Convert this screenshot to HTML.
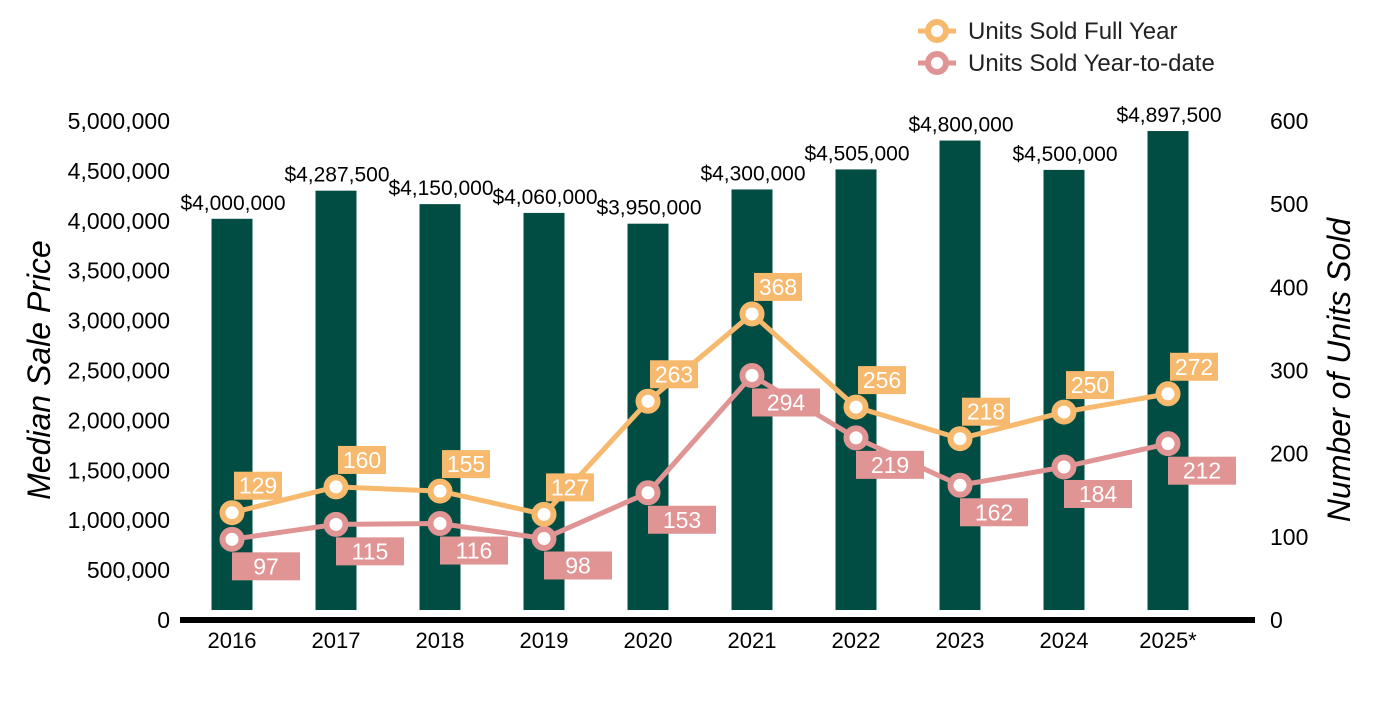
<!DOCTYPE html>
<html><head><meta charset="utf-8"><style>
body{margin:0;background:#fff}
svg text{font-family:"Liberation Sans",Arial,sans-serif}
</style></head><body>
<svg id="c" width="1400" height="700"></svg>
<script>
const categories=["2016","2017","2018","2019","2020","2021","2022","2023","2024","2025*"];
const prices=[4000000,4287500,4150000,4060000,3950000,4300000,4505000,4800000,4500000,4897500];
const fullYear=[129,160,155,127,263,368,256,218,250,272];
const ytd=[97,115,116,98,153,294,219,162,184,212];
const leftTicks=[0,500000,1000000,1500000,2000000,2500000,3000000,3500000,4000000,4500000,5000000];
const rightTicks=[0,100,200,300,400,500,600];
const NS="http://www.w3.org/2000/svg";
const svg=document.getElementById('c');
function el(t,a,p){const e=document.createElementNS(NS,t);for(const k in a)e.setAttribute(k,a[k]);(p||svg).appendChild(e);return e;}
const xc=i=>232+i*104;
const yBar=v=>610-v/5000000*489;
const yLeftTick=v=>620-v/5000000*499;
const yR=v=>620-v/600*499;
const fmt=v=>v.toLocaleString('en-US');
leftTicks.forEach(v=>{const t=el('text',{x:170,y:yLeftTick(v)+8,'text-anchor':'end','font-size':23,fill:'#000'});t.textContent=fmt(v);

});
rightTicks.forEach(v=>{const t=el('text',{x:1270,y:yR(v)+8,'font-size':23,fill:'#000'});t.textContent=v;

});
let t=el('text',{transform:'translate(50,370) rotate(-90)','text-anchor':'middle','font-size':32,'font-style':'italic',fill:'#000'});t.textContent='Median Sale Price';

t=el('text',{transform:'translate(1350,370) rotate(-90)','text-anchor':'middle','font-size':32,'font-style':'italic',fill:'#000'});t.textContent='Number of Units Sold';

prices.forEach((v,i)=>{const r=el('rect',{x:xc(i)-20.5,y:yBar(v),width:41,height:610-yBar(v),fill:'#024d43'});


const l=el('text',{x:xc(i)+1,y:yBar(v)-9,'text-anchor':'middle','font-size':21,fill:'#000'});l.textContent='$'+fmt(v);

});
const ax=el('rect',{x:180,y:617,width:1075,height:6,fill:'#000'});

categories.forEach((c,i)=>{const l=el('text',{x:xc(i),y:648,'text-anchor':'middle','font-size':22,fill:'#000'});l.textContent=c;

});
function series(vals,color,name,labelAbove,bw){
 const p=el('polyline',{points:vals.map((v,i)=>xc(i)+','+yR(v)).join(' '),fill:'none',stroke:color,'stroke-width':5});
 
 
 vals.forEach((v,i)=>{const c=el('circle',{cx:xc(i),cy:yR(v),r:9.5,fill:'#fff',stroke:color,'stroke-width':6});
 
 
 const top=labelAbove?yR(v)-41:yR(v)+13;const x0=labelAbove?xc(i)+2:xc(i);
 const r=el('rect',{x:x0,y:top,width:bw,height:28,fill:color});
 
 
 const l=el('text',{x:x0+bw/2,y:top+22,'text-anchor':'middle','font-size':23,fill:'#fff'});l.textContent=v;
 
 });
}
series(ytd,'#e09494','ytd',false,68);
series(fullYear,'#f6b96d','full-year',true,48);
[['#f6b96d','Units Sold Full Year',31],['#e09494','Units Sold Year-to-date',63]].forEach(([c,n,y])=>{
 const g=el('g',{});
 el('line',{x1:918,x2:956,y1:y,y2:y,stroke:c,'stroke-width':5},g);
 el('circle',{cx:937,cy:y,r:9,fill:'#fff',stroke:c,'stroke-width':6},g);
 const l=el('text',{x:968,y:y+8,'font-size':24,fill:'#222'},g);l.textContent=n;});
</script>
</body></html>
